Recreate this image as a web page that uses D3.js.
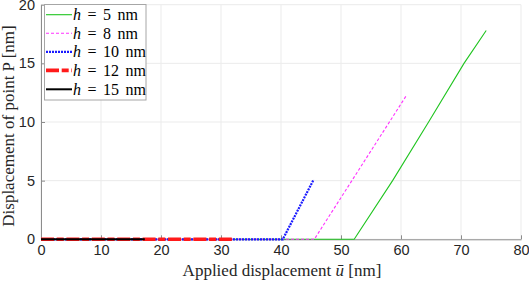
<!DOCTYPE html>
<html>
<head>
<meta charset="utf-8">
<script src="https://cdn.jsdelivr.net/npm/d3@7"></script>
<style>
  body { margin: 0; background: #fff; }
  svg { display: block; }
</style>
</head>
<body>
<svg id="chart" width="529" height="281"></svg>
<script>
// series data (applied displacement, displacement of P)
const h5 = [[0, 0], [52.2, 0], [58.6, 5], [64.6, 10], [70.5, 15], [74.2, 17.8]];
const h8 = [[0, 0], [45.55, 0], [60.95, 12.3]];
const h10 = [[0, 0], [40.3, 0], [45.45, 5.1]];
const h12 = [[0, 0], [32.05, 0]];
const h15 = [[0, 0], [17.3, 0]];

const xTicks = [0, 10, 20, 30, 40, 50, 60, 70, 80];
const yTicks = [0, 5, 10, 15, 20];
const labels = ["5", "8", "10", "12", "15"];

const series = [
  { data: h5, color: "#1fc41f", width: 1.1, dash: null },
  { data: h8, color: "#ff33ff", width: 1.1, dash: "3,2" },
  { data: h10, color: "#1a1aff", width: 2.2, dash: "2,1" },
  { data: h12, color: "#ff1a1a", width: 3.6, dash: "13,2.7,7,2.7" },
  { data: h15, color: "#000000", width: 2, dash: null }
];

const svg = d3.select("#chart");
const x = d3.scaleLinear().domain([0, 80]).range([41, 521]);
const y = d3.scaleLinear().domain([0, 20]).range([239.3, 4.7]);
const serif = "'Liberation Serif', 'DejaVu Serif', serif";

// grid
const grid = svg.append("g");
grid.selectAll("line.vx").data(xTicks).enter().append("line")
  .attr("x1", d => x(d)).attr("x2", d => x(d))
  .attr("y1", y(0)).attr("y2", y(20))
  .attr("stroke", "#ebebeb").attr("stroke-width", 1);
grid.selectAll("line.hy").data(yTicks).enter().append("line")
  .attr("x1", x(0)).attr("x2", x(80))
  .attr("y1", d => y(d)).attr("y2", d => y(d))
  .attr("stroke", "#ebebeb").attr("stroke-width", 1);

// axes
const xAxis = d3.axisBottom(x).tickValues(xTicks).tickSizeInner(-4).tickSizeOuter(0).tickPadding(5);
const yAxis = d3.axisLeft(y).tickValues(yTicks).tickSizeInner(-4).tickSizeOuter(0).tickPadding(6);

const gx = svg.append("g").attr("transform", `translate(0,${y(0)})`).call(xAxis);
const gy = svg.append("g").attr("transform", `translate(${x(0)},0)`).call(yAxis);
[gx, gy].forEach(g => {
  g.select(".domain").attr("stroke", "#8c8c8c").attr("stroke-width", 1);
  g.selectAll(".tick line").attr("stroke", "#8c8c8c");
  g.selectAll(".tick text").attr("fill", "#262626")
    .style("font-family", "'Liberation Sans', Arial, sans-serif").style("font-size", "14.5px");
});

// lines
const line = d3.line().x(d => x(d[0])).y(d => y(d[1]));
const gl = svg.append("g");
series.forEach(s => {
  gl.append("path").datum(s.data)
    .attr("d", line)
    .attr("fill", "none")
    .attr("stroke", s.color)
    .attr("stroke-width", s.width)
    .attr("stroke-dasharray", s.dash);
});

// axis labels
svg.append("text")
  .attr("x", 282).attr("y", 276)
  .attr("text-anchor", "middle")
  .style("font-family", serif).style("font-size", "17px")
  .attr("fill", "#262626")
  .call(t => {
    t.append("tspan").text("Applied displacement ");
    t.append("tspan").style("font-style", "italic").text("ū");
    t.append("tspan").text(" [nm]");
  });

svg.append("text")
  .attr("transform", `translate(14,126) rotate(-90)`)
  .attr("text-anchor", "middle")
  .style("font-family", serif).style("font-size", "17px")
  .attr("fill", "#262626")
  .text("Displacement of point P [nm]");

// legend
const lg = svg.append("g");
lg.append("rect")
  .attr("x", 44.5).attr("y", 4.5).attr("width", 101.5).attr("height", 95.5)
  .attr("fill", "#fff").attr("stroke", "#a6a6a6").attr("stroke-width", 1);
const rowY = [14.7, 33.3, 51.8, 70.4, 89.3];
series.forEach((s, i) => {
  lg.append("line")
    .attr("x1", 46).attr("x2", 72).attr("y1", rowY[i]).attr("y2", rowY[i])
    .attr("stroke", s.color).attr("stroke-width", s.width)
    .attr("stroke-dasharray", s.dash);
  const t = lg.append("text")
    .attr("x", 73).attr("y", rowY[i] + 5.5)
    .style("font-family", serif).style("font-size", "16px")
    .style("word-spacing", "2.5px")
    .attr("fill", "#000");
  t.append("tspan").style("font-style", "italic").text("h");
  t.append("tspan").text(" = " + labels[i] + " nm");
});
</script>
</body>
</html>
